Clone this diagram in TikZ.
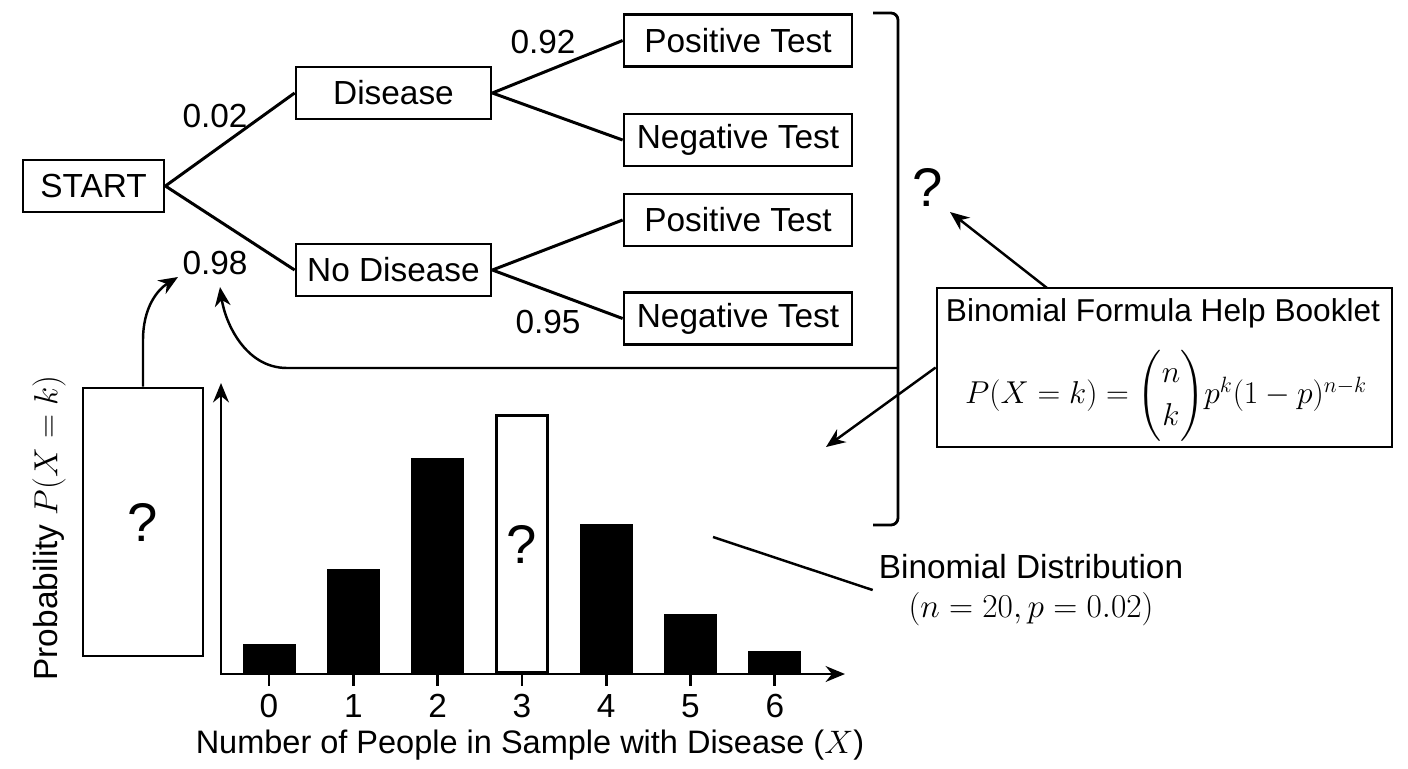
\RequirePackage{fix-cm}
\documentclass[tikz,border=0pt]{standalone}
\usepackage{amsmath}
\usepackage{fontspec}
\setmainfont{Liberation Sans}
\usetikzlibrary{arrows.meta, calc, positioning}

\begin{document}
\begin{tikzpicture}[
    x=0.02cm, y=-0.02cm, % one unit is one pixel of the layout, y runs down
    >={Stealth[length=11pt, width=9pt]}, % default arrow tip
    every node/.style={font=\fontsize{19}{22}\selectfont},
    box/.style={draw, line width=1.6pt, minimum height=1.04cm, inner sep=0pt}, % framed boxes
    branch/.style={line width=1.7pt}, % tree edges
    pointer/.style={->, line width=1.4pt}, % arrows between parts
    qmark/.style={font=\fontsize{31}{33}\selectfont} % big question marks
]
\useasboundingbox (0,0) rectangle (1408,768);

% Probability tree
\node[box, minimum width=2.82cm] (start) at (93.5,186) {START};
\node[box, minimum width=3.9cm] (dis) at (393.5,93) {Disease};
\node[box, minimum width=3.9cm] (nodis) at (393.5,270) {No Disease};
\node[box, minimum width=4.56cm] (pos1) at (738,40.5) {Positive Test};
\node[box, minimum width=4.56cm] (neg1) at (738,140) {Negative Test};
\node[box, minimum width=4.56cm] (pos2) at (738,220) {Positive Test};
\node[box, minimum width=4.56cm] (neg2) at (738,318.5) {Negative Test};

\draw[branch] (start.east) -- (dis.west);
\draw[branch] (start.east) -- (nodis.west);
\draw[branch] (dis.east) -- (pos1.west);
\draw[branch] (dis.east) -- (neg1.west);
\draw[branch] (nodis.east) -- (pos2.west);
\draw[branch] (nodis.east) -- (neg2.west);

% Branch probabilities
\node (p02) at (215,116) {0.02};
\node (p98) at (215,263) {0.98};
\node (p92) at (543,42) {0.92};
\node (p95) at (548,322) {0.95};

% Bracket round the outcomes
\draw[line width=1.6pt, rounded corners=4pt] (873,13) -- (898,13) -- (898,525) -- (873,525);
\coordinate (brk) at (898,368);
\node[qmark] (qtree) at (928,187) {?};

% Help booklet
\node[box, minimum width=9.1cm, minimum height=3.18cm] (book) at (1164.5,367.5) {};
\node[font=\fontsize{18}{21}\selectfont, inner sep=0pt] (booktitle) at (1163,313) {Binomial Formula Help Booklet};
\node[font=\fontsize{18}{22}\selectfont, inner sep=0pt] (formula) at (1166,396)
    {$P(X=k)=\dbinom{n}{k}p^k(1-p)^{n-k}$};

\coordinate (booktop) at (1047,288);
\coordinate (qtip) at (950,212);
\coordinate (charttip) at (826,447);
\draw[pointer] (booktop) -- (qtip);
\draw[pointer] (book.west) -- (charttip);

% Bar chart
\node[box, qmark, minimum width=2.4cm, minimum height=5.36cm] (qbox) at (143,522) {?};
\node[rotate=90] (ylab) at (49,528) {Probability $P(X=k)$};

\coordinate (orig) at (221,674);
\draw[<->, line width=1.6pt] (221,383) -- (orig) -- (845,674);

\foreach \i/\top in {0/644, 1/569, 2/458, 4/524, 5/614, 6/651} {
    \fill ({269+84.3*\i-26.5},\top) rectangle ({269+84.3*\i+26.5},674);
}
\node[box, qmark, minimum width=1.02cm, minimum height=5.14cm] (qbar) at (522,544) {?};

\foreach \i in {0,...,6} {
    \draw[line width=1.6pt] ({269+84.3*\i},674) -- ++(0,12);
    \node (tick\i) at ({269+84.3*\i},706) {\i};
}
\node[font=\fontsize{18.5}{22}\selectfont] (xlab) at (530,745) {Number of People in Sample with Disease ($X$)};

% Distribution label
\node[align=center] (bdist) at (1031,590) {Binomial Distribution\\$(n=20,p=0.02)$};
\coordinate (bline) at (713,537);
\draw[line width=1.4pt] (bline) -- (bdist.west);

% Curved arrows to 0.98
\draw[pointer] (brk) -- (287,368) .. controls (245,368) and (225,322) .. (220,287);
\draw[pointer] (qbox.north) -- (143,340) .. controls (143,308) and (157,290) .. (178,277);

\end{tikzpicture}
\end{document}
